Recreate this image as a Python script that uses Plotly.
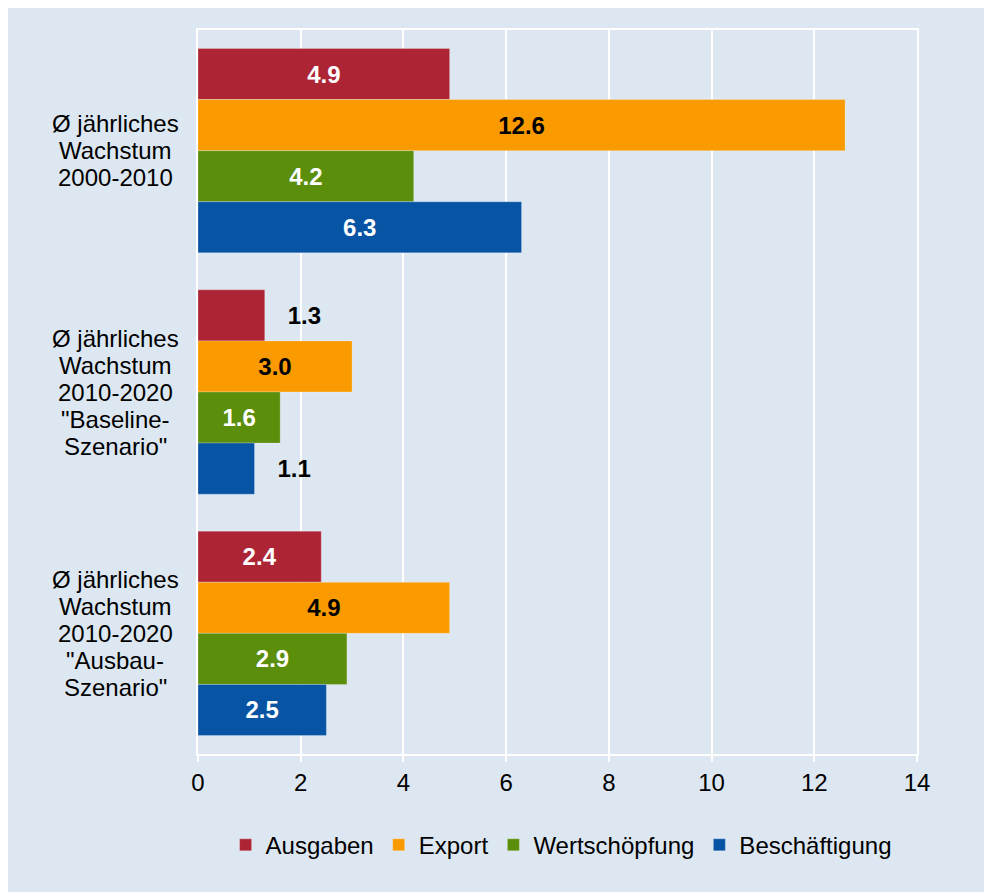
import plotly.graph_objects as go

# Category rows (top to bottom), one list of text lines per row
category_lines = [
    ["Ø jährliches", "Wachstum", "2000-2010"],
    ["Ø jährliches", "Wachstum", "2010-2020", "\"Baseline-", "Szenario\""],
    ["Ø jährliches", "Wachstum", "2010-2020", "\"Ausbau-", "Szenario\""],
]
cat_keys = ["g1", "g2", "g3"]

# Series values in %
ausgaben = [4.9, 1.3, 2.4]
export = [12.6, 3.0, 4.9]
wertschoepfung = [4.2, 1.6, 2.9]
beschaeftigung = [6.3, 1.1, 2.5]

series = [
    ("Ausgaben", ausgaben, "#ad2535",
     ["white", "black", "white"], ["inside", "outside", "inside"]),
    ("Export", export, "#f99b00",
     ["black", "black", "black"], ["inside", "inside", "inside"]),
    ("Wertschöpfung", wertschoepfung, "#5b8e0b",
     ["white", "white", "white"], ["inside", "inside", "inside"]),
    ("Beschäftigung", beschaeftigung, "#0753a4",
     ["white", "black", "white"], ["inside", "outside", "inside"]),
]

BG = "#dde7f1"
FONT = "Liberation Sans, Arial, sans-serif"
FS = 24

fig = go.Figure()
for name, vals, color, tcolors, tpos in series:
    labels = []
    for v, p in zip(vals, tpos):
        s = f"{v:.1f}"
        if p == "outside":
            s = "\u00a0\u00a0\u00a0" + s
        labels.append(s)
    fig.add_trace(go.Bar(
        name=name,
        y=cat_keys,
        x=vals,
        orientation="h",
        marker=dict(color=color, line=dict(color="rgba(255,255,255,0.25)", width=1)),
        text=labels,
        textposition=tpos,
        insidetextanchor="middle",
        textangle=0,
        textfont=dict(family=FONT, size=FS, color=tcolors, weight="bold"),
        cliponaxis=False,
        hoverinfo="skip",
    ))

W, H = 984, 892
ml, mr, mt, mb = 198, 67, 30, 138
pw, ph = W - ml - mr, H - mt - mb

fig.update_layout(
    width=W, height=H,
    margin=dict(l=ml, r=mr, t=mt, b=mb),
    paper_bgcolor=BG,
    plot_bgcolor=BG,
    barmode="group",
    bargap=0.153,
    bargroupgap=0,
    font=dict(family=FONT, size=FS, color="black"),
    showlegend=True,
    legend=dict(
        orientation="h",
        x=0.505, xanchor="center",
        y=-0.126, yanchor="middle",
        font=dict(family=FONT, size=FS, color="black"),
        bgcolor="rgba(0,0,0,0)",
        itemclick=False,
        tracegroupgap=0,
    ),
    xaxis=dict(
        range=[0, 14],
        dtick=2,
        tick0=0,
        showgrid=True,
        gridcolor="white",
        gridwidth=2,
        zeroline=False,
        showline=True,
        linecolor="white",
        linewidth=2,
        mirror=True,
        ticks="outside",
        ticklen=6,
        tickwidth=2,
        tickcolor="white",
        tickfont=dict(family=FONT, size=FS, color="black"),
        fixedrange=True,
    ),
    yaxis=dict(
        categoryorder="array",
        categoryarray=cat_keys,
        autorange="reversed",
        showticklabels=False,
        showgrid=False,
        zeroline=False,
        showline=True,
        linecolor="white",
        linewidth=2,
        mirror=True,
        ticks="",
        fixedrange=True,
    ),
)

# Multi-line category labels, centred to the left of the plot area
LINE_H = 27
for key, lines in zip(cat_keys, category_lines):
    n = len(lines)
    for i, line in enumerate(lines):
        fig.add_annotation(
            x=-83 / pw, xref="paper", xanchor="center",
            y=key, yref="y", yanchor="middle",
            yshift=((n - 1) / 2 - i) * LINE_H,
            text=line, showarrow=False, align="center",
            font=dict(family=FONT, size=FS, color="black"),
        )

# White page margin on the top and left edges
fig.add_shape(type="rect", xref="paper", yref="paper",
              x0=-ml / pw, x1=(W - ml) / pw + 0.01,
              y0=1 + 22 / ph, y1=1 + 31 / ph,
              fillcolor="white", line=dict(width=0), layer="above")
fig.add_shape(type="rect", xref="paper", yref="paper",
              x0=-ml / pw - 0.01, x1=-(ml - 8) / pw,
              y0=-mb / ph - 0.01, y1=1 + 31 / ph,
              fillcolor="white", line=dict(width=0), layer="above")

fig.write_html("out.html")
